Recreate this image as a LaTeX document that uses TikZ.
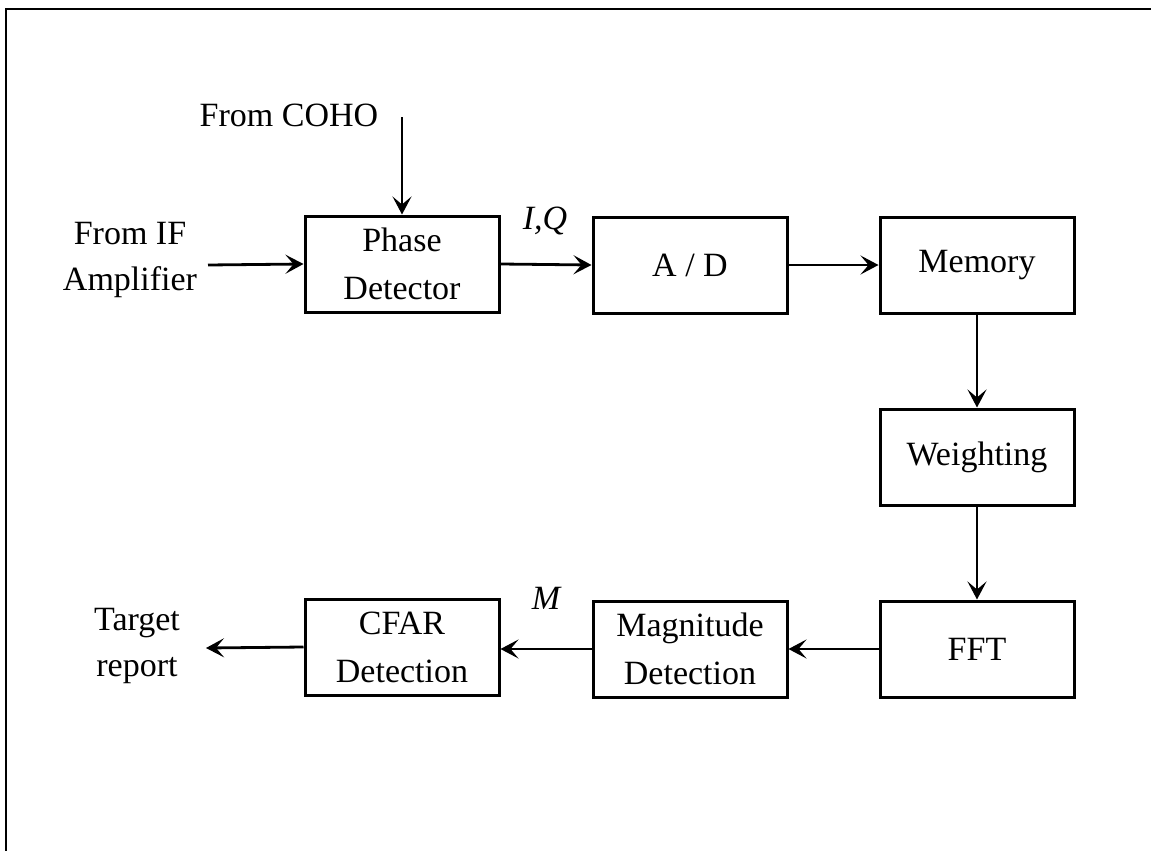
\documentclass[tikz,border=0pt]{standalone}
\usepackage{fontspec}
\setmainfont{Liberation Serif}
\usetikzlibrary{arrows.meta}
\tikzset{
  blk/.style={draw, line width=3pt, minimum width=194pt, minimum height=96pt, align=center, inner sep=0pt, font=\fontsize{34}{48}\selectfont},
  lbl/.style={align=center, inner sep=0pt, font=\fontsize{34}{46}\selectfont},
  conn/.style={line width=2.8pt, -{Stealth[length=18pt,width=19pt,inset=8pt]}},
  frame/.style={line width=2.4pt}
}
\begin{document}
\begin{tikzpicture}[x=1pt,y=-1pt]
\useasboundingbox (0,0) rectangle (1151,851);
\coordinate (fbl) at (6,851);
\coordinate (ftl) at (6,9);
\coordinate (ftr) at (1151,9);
\draw[frame] (fbl) -- (ftl) -- (ftr);

\node[blk] (pd) at (402,264) {Phase\\Detector};
\node[blk] (ad) at (690,265) {A / D};
\node[blk] (mem) at (977,265) {Memory};
\node[blk] (wt) at (977,457) {Weighting};
\node[blk] (fft) at (977,649) {FFT};
\node[blk] (mag) at (690,649) {Magnitude\\Detection};
\node[blk] (cfar) at (402,647) {CFAR\\Detection};

\node[lbl] (coho) at (289,115) {From COHO};
\node[lbl] (ifa) at (130,260) {From IF\\Amplifier};
\node[lbl] (tgt) at (137,646) {Target\\report};
\node[lbl] (iq) at (545,221) {\itshape I,Q};
\node[lbl] (m) at (546,598) {\itshape M};

\coordinate (cohoin) at (402,117);
\coordinate (ifin) at (208,265);
\coordinate (tgtout) at (206,648);

\draw[conn] (cohoin) -- (pd.north);
\draw[conn] (ifin) -- (pd.west);
\draw[conn] (pd.east) -- (ad.west);
\draw[conn] (ad.east) -- (mem.west);
\draw[conn] (mem.south) -- (wt.north);
\draw[conn] (wt.south) -- (fft.north);
\draw[conn] (fft.west) -- (mag.east);
\draw[conn] (mag.west) -- (cfar.east |- mag.west);
\draw[conn] (cfar.west) -- (tgtout);
\end{tikzpicture}
\end{document}
